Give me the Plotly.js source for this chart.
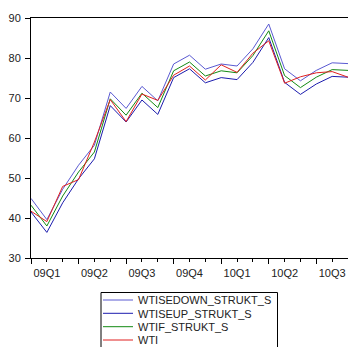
<!DOCTYPE html>
<html>
<head>
<meta charset="utf-8">
<script src="https://cdn.plot.ly/plotly-3.0.1.min.js"></script>
<style>
html,body{margin:0;padding:0;background:#fff;}
#chart{width:348px;height:347px;}
</style>
</head>
<body>
<div id="chart"></div>
<script>
// Monthly observations, 2009M01 .. 2010M09
var months = ['2009M01','2009M02','2009M03','2009M04','2009M05','2009M06','2009M07','2009M08','2009M09','2009M10','2009M11','2009M12',
              '2010M01','2010M02','2010M03','2010M04','2010M05','2010M06','2010M07','2010M08','2010M09'];
var quarterStarts = ['2009M01','2009M04','2009M07','2009M10','2010M01','2010M04','2010M07'];
var quarterLabelMonths = ['2009M02','2009M05','2009M08','2009M11','2010M02','2010M05','2010M08'];
var quarterLabels = ['09Q1','09Q2','09Q3','09Q4','10Q1','10Q2','10Q3'];

var wtiSeDown = [44.9,39.6,47.2,53.2,58.2,71.5,67.4,72.9,69.3,78.5,80.7,77.2,78.5,78.0,82.3,88.5,77.3,74.3,76.9,78.8,78.6];
var wtiSeUp   = [41.5,36.4,43.8,49.8,54.8,68.1,64.0,69.5,65.9,75.1,77.3,73.8,75.1,74.6,78.9,85.1,73.9,70.9,73.5,75.4,75.2];
var wtif      = [43.2,38.0,45.5,51.5,56.5,69.8,65.7,71.2,67.6,76.8,79.0,75.5,76.8,76.3,80.6,86.8,75.6,72.6,75.2,77.1,76.9];
var wti       = [41.7,39.1,47.9,49.6,59.0,69.6,64.1,71.0,69.4,75.7,78.0,74.5,78.3,76.4,81.2,84.3,73.7,75.3,76.3,76.6,75.2];

var seriesNames = ['WTISEDOWN_STRUKT_S','WTISEUP_STRUKT_S','WTIF_STRUKT_S','WTI'];
var seriesColors = ['#5a5ad2','#1c1cae','#138a13','#e02020'];
var seriesData = [wtiSeDown, wtiSeUp, wtif, wti];

var W = 348, H = 347;
var M = {l: 31, r: 0, t: 18, b: 89};
var pw = W - M.l - M.r, ph = H - M.t - M.b;
function px2paperX(px){ return (px - M.l) / pw; }
function px2paperY(py){ return (H - M.b - py) / ph; }

var idx = months.map(function(m, i){ return i; });
function pos(list){ return list.map(function(m){ return months.indexOf(m); }); }

var legendIds = ['legend','legend2','legend3','legend4'];
var legendRowsPx = [300, 313.3, 326.7, 340];

var traces = seriesData.map(function(vals, k){
  return {x: idx, y: vals, type: 'scatter', mode: 'lines', name: seriesNames[k],
          legend: legendIds[k],
          line: {color: seriesColors[k], width: 1}, hoverinfo: 'skip'};
});

var fnt = {family: 'Liberation Sans, Arial, sans-serif', size: 11, color: '#222'};
var xr = [0, months.length - 1];

var layout = {
  width: W, height: H,
  margin: {l: M.l, r: M.r, t: M.t, b: M.b, pad: 0, autoexpand: false},
  paper_bgcolor: '#fff', plot_bgcolor: '#fff',
  font: fnt,
  showlegend: true,
  xaxis: {range: xr, showgrid: false, zeroline: false, showline: true, linecolor: '#000', linewidth: 1,
          mirror: true, ticks: 'outside', tickmode: 'linear', tick0: 0, dtick: 1, ticklen: 3,
          tickcolor: '#000', showticklabels: false},
  xaxis2: {range: xr, overlaying: 'x', anchor: 'y', showgrid: false, zeroline: false, showline: false,
           tickmode: 'array', tickvals: pos(quarterStarts), ticks: 'outside', ticklen: 5, tickcolor: '#000',
           showticklabels: false},
  xaxis3: {range: xr, overlaying: 'x', anchor: 'y', showgrid: false, zeroline: false, showline: false,
           tickmode: 'array', tickvals: pos(quarterLabelMonths), ticktext: quarterLabels, ticks: '',
           ticklabelstandoff: 7, tickfont: fnt},
  yaxis: {range: [30, 90], tickmode: 'linear', tick0: 30, dtick: 10, showgrid: false, zeroline: false,
          showline: true, linecolor: '#000', linewidth: 1, mirror: false, ticks: 'outside', ticklen: 5,
          tickcolor: '#000', tickfont: fnt, ticklabelstandoff: 2},
  shapes: [{type: 'rect', xref: 'paper', yref: 'paper',
            x0: px2paperX(101), x1: px2paperX(277.5), y0: px2paperY(292.5), y1: px2paperY(352),
            line: {color: '#000', width: 1}, fillcolor: 'rgba(0,0,0,0)', layer: 'above'}]
};

legendIds.forEach(function(id, k){
  layout[id] = {xref: 'container', yref: 'container', x: 98 / W, y: 1 - legendRowsPx[k] / H,
                xanchor: 'left', yanchor: 'middle', bgcolor: 'rgba(0,0,0,0)', borderwidth: 0,
                font: fnt, itemwidth: 30};
});

// invisible traces to activate overlay axes
traces.push({x: [0], y: [30], xaxis: 'x2', type: 'scatter', mode: 'markers', marker: {opacity: 0}, showlegend: false, hoverinfo: 'skip'});
traces.push({x: [0], y: [30], xaxis: 'x3', type: 'scatter', mode: 'markers', marker: {opacity: 0}, showlegend: false, hoverinfo: 'skip'});

Plotly.newPlot('chart', traces, layout, {staticPlot: true, displayModeBar: false});
</script>
</body>
</html>
